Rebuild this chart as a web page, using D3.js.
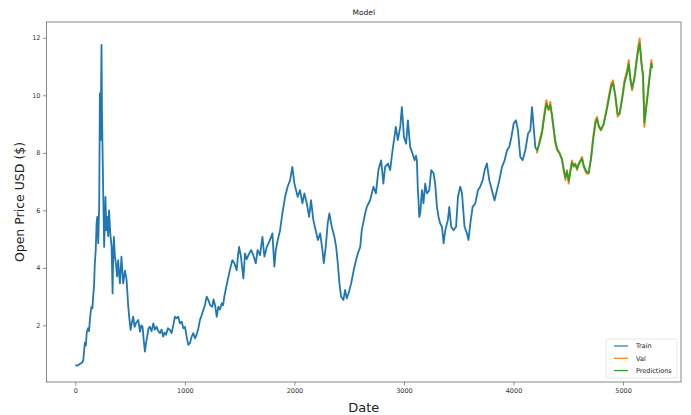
<!DOCTYPE html>
<html>
<head>
<meta charset="utf-8">
<script src="https://cdn.jsdelivr.net/npm/d3@7"></script>
<style>
  body { margin: 0; background: #fff; }
  text { font-family: "DejaVu Sans", sans-serif; }
</style>
</head>
<body>
<svg id="chart" width="691" height="415"></svg>
<script>
// Training window: [trading day, open price]
const trainSeries = [
  [0,0.62],[20,0.6],[41,0.66],[60,0.7],[72,0.78],[87,1.4],[96,1.3],[104,1.75],[116,1.9],[125,1.8],
  [133,2.19],[141,2.5],[148,2.65],[156,2.6],[163,3.0],[171,3.4],[178,4.16],[186,4.6],[194,5.55],[200,5.77],
  [209,4.86],[218,6.25],[224,10.07],[230,8.44],[239,11.75],[243,9.5],[248,8.2],[255,6.47],[263,4.73],[269,5.6],
  [275,6.47],[283,5.3],[291,5.77],[300,5.1],[308,6.0],[319,5.2],[331,4.73],[340,3.11],[346,4.5],[352,5.08],
  [361,4.4],[370,4.16],[381,3.7],[391,4.27],[399,3.8],[407,3.46],[421,4.39],[429,3.9],[437,3.46],[453,3.9],
  [468,3.58],[483,2.65],[494,2.2],[505,1.84],[516,2.1],[528,2.3],[541,1.95],[553,2.07],[574,2.19],[590,1.78],
  [602,2.0],[614,1.95],[624,1.5],[635,1.09],[646,1.4],[656,1.61],[668,1.9],[680,1.95],[696,1.8],[712,2.07],
  [726,1.85],[742,1.95],[758,1.8],[773,1.73],[787,1.85],[802,1.61],[814,1.75],[828,1.67],[845,1.9],[864,1.84],
  [879,1.73],[894,2.0],[909,2.3],[925,2.25],[939,2.3],[955,2.07],[971,2.13],[986,1.9],[1001,1.95],[1016,1.61],
  [1031,1.32],[1046,1.38],[1061,1.6],[1077,1.73],[1092,1.55],[1107,1.67],[1123,1.9],[1138,2.19],[1153,2.35],[1168,2.53],
  [1183,2.7],[1199,3.0],[1214,2.88],[1230,2.71],[1250,2.65],[1262,2.9],[1275,2.71],[1291,2.3],[1305,2.65],[1320,2.55],
  [1337,2.77],[1349,2.7],[1360,3.0],[1376,3.3],[1391,3.58],[1411,3.92],[1433,4.27],[1452,4.16],[1473,3.92],[1484,4.4],
  [1495,4.73],[1512,4.39],[1523,4.0],[1534,3.63],[1549,4.5],[1564,4.3],[1580,4.44],[1605,4.62],[1625,4.44],[1647,4.16],
  [1664,4.62],[1686,4.44],[1708,5.08],[1726,4.39],[1748,4.73],[1777,4.97],[1799,5.2],[1817,4.04],[1830,4.62],[1848,4.97],
  [1869,5.31],[1890,5.89],[1915,6.47],[1938,6.82],[1961,7.05],[1981,7.51],[2000,6.93],[2030,6.47],[2051,6.7],[2073,6.24],
  [2091,6.59],[2113,6.24],[2134,5.77],[2152,6.35],[2173,5.66],[2194,5.31],[2214,4.97],[2235,5.2],[2256,4.62],[2268,4.16],
  [2286,4.73],[2304,5.55],[2319,5.89],[2341,5.43],[2365,5.08],[2381,4.73],[2396,4.16],[2411,3.46],[2426,3.0],[2447,2.88],
  [2463,3.23],[2478,2.94],[2494,3.11],[2518,3.46],[2548,4.04],[2579,4.5],[2601,4.73],[2615,5.31],[2646,5.89],[2661,6.12],
  [2691,6.35],[2722,6.82],[2744,6.59],[2767,7.4],[2792,7.74],[2812,6.93],[2828,7.51],[2854,7.63],[2874,7.4],[2896,8.09],
  [2913,8.55],[2926,8.9],[2944,8.44],[2966,8.9],[2981,9.59],[3000,8.55],[3020,8.32],[3036,9.13],[3057,8.2],[3078,7.98],
  [3097,7.74],[3110,7.9],[3118,7.74],[3127,6.7],[3133,6.35],[3139,5.77],[3149,5.89],[3164,6.7],[3178,6.24],[3194,6.93],
  [3209,6.59],[3231,6.7],[3249,7.4],[3271,7.28],[3285,6.93],[3301,6.12],[3316,5.77],[3330,5.55],[3347,5.43],[3362,4.85],
  [3377,5.31],[3401,5.66],[3414,6.12],[3431,5.43],[3453,5.31],[3476,5.43],[3493,6.47],[3514,6.82],[3530,6.59],[3553,5.43],
  [3575,5.2],[3589,4.97],[3606,5.55],[3627,6.12],[3651,6.24],[3676,6.7],[3696,6.82],[3719,7.05],[3737,7.4],[3757,7.63],
  [3779,7.05],[3803,6.7],[3827,6.35],[3849,6.7],[3871,7.05],[3895,7.51],[3919,7.74],[3941,8.09],[3961,8.2],[3981,8.55],
  [4002,9.02],[4023,9.13],[4041,8.78],[4062,7.86],[4083,7.74],[4108,8.09],[4133,8.67],[4154,8.78],[4169,9.59],[4184,8.9],
  [4199,8.2],[4213,8.1]
];

// Validation window
const valDay = [4214,4239,4261,4281,4300,4320,4336,4352,4367,4382,4398,4421,4443,4457,4474,4489,4504,4519,4534,4549,
  4564,4580,4594,4611,4626,4641,4665,4686,4708,4727,4748,4763,4778,4799,4823,4847,4869,4891,4909,4930,
  4951,4969,4992,5013,5037,5052,5067,5083,5104,5122,5138,5152,5168,5183,5195,5211,5225,5244,5259,5266];
const valOpen = [7.98,8.44,8.78,9.36,9.83,9.48,9.77,9.25,8.78,8.32,8.09,7.98,7.74,7.4,7.05,7.4,6.93,7.4,7.74,7.51,
  7.63,7.4,7.63,7.74,7.86,7.51,7.28,7.28,7.86,8.55,9.13,9.25,8.9,8.78,9.02,9.48,9.94,10.4,10.52,9.94,
  9.25,9.36,9.94,10.52,10.87,11.22,10.52,10.17,10.64,11.22,11.68,11.98,11.1,10.64,8.9,9.59,10.06,10.75,11.22,10.98];
const predOpen = [8.05,8.35,8.70,9.25,9.70,9.52,9.66,9.30,8.86,8.40,8.15,7.98,7.78,7.47,7.15,7.35,7.02,7.34,7.66,7.55,
  7.60,7.45,7.58,7.70,7.80,7.56,7.35,7.30,7.78,8.44,9.02,9.18,8.95,8.80,8.98,9.40,9.84,10.28,10.42,10.00,
  9.35,9.36,9.86,10.42,10.76,11.08,10.60,10.24,10.58,11.10,11.55,11.80,11.15,10.70,9.05,9.55,10.00,10.66,11.10,10.95];

const xTicks = [0, 1000, 2000, 3000, 4000, 5000];
const yTicks = [2, 4, 6, 8, 10, 12];
const legendLabels = ["Train", "Val", "Predictions"];
const seriesColors = ["#1f77b4", "#ff7f0e", "#2ca02c"];

const svg = d3.select("#chart");
const plot = { left: 46.5, right: 681, top: 22, bottom: 382 };

// Axis limits padded by 5% on each side
const allDays = trainSeries.map(d => d[0]).concat(valDay);
const allVals = trainSeries.map(d => d[1]).concat(valOpen, predOpen);
const [dx0, dx1] = d3.extent(allDays);
const [dy0, dy1] = d3.extent(allVals);
const padX = (dx1 - dx0) * 0.05, padY = (dy1 - dy0) * 0.05;

const x = d3.scaleLinear().domain([dx0 - padX, dx1 + padX]).range([plot.left, plot.right]);
const y = d3.scaleLinear().domain([dy0 - padY, dy1 + padY]).range([plot.bottom, plot.top]);

const line = d3.line().x(d => x(d[0])).y(d => y(d[1]));

const valSeries = valDay.map((d, i) => [d, valOpen[i]]);
const predSeries = valDay.map((d, i) => [d, predOpen[i]]);

const lines = svg.append("g").attr("fill", "none").attr("stroke-width", 1.8).attr("stroke-linejoin", "round");
lines.append("path").attr("d", line(trainSeries)).attr("stroke", seriesColors[0]);
lines.append("path").attr("d", line(valSeries)).attr("stroke", seriesColors[1]);
lines.append("path").attr("d", line(predSeries)).attr("stroke", seriesColors[2]);

// Axes
const xAxis = d3.axisBottom(x).tickValues(xTicks).tickSize(3.5).tickPadding(2.5).tickFormat(d3.format("d"));
const yAxis = d3.axisLeft(y).tickValues(yTicks).tickSize(3.5).tickPadding(2.5).tickFormat(d3.format("d"));

const gx = svg.append("g").attr("transform", `translate(0,${plot.bottom})`).call(xAxis);
const gy = svg.append("g").attr("transform", `translate(${plot.left},0)`).call(yAxis);
[gx, gy].forEach(g => {
  g.select(".domain").remove();
  g.selectAll(".tick line").attr("stroke", "#444").attr("stroke-width", 0.6);
  g.selectAll(".tick text").attr("fill", "#333").attr("font-size", 6.5)
    .attr("font-family", "DejaVu Sans, sans-serif");
});

// Frame
svg.append("rect")
  .attr("x", plot.left).attr("y", plot.top)
  .attr("width", plot.right - plot.left).attr("height", plot.bottom - plot.top)
  .attr("fill", "none").attr("stroke", "#555").attr("stroke-width", 0.7);

// Titles
const cx = (plot.left + plot.right) / 2;
svg.append("text").attr("x", cx).attr("y", 15).attr("text-anchor", "middle")
  .attr("font-size", 7.5).attr("fill", "#222").text("Model");
svg.append("text").attr("x", cx).attr("y", 412).attr("text-anchor", "middle")
  .attr("font-size", 13).attr("fill", "#222").text("Date");
svg.append("text")
  .attr("transform", `translate(24,${(plot.top + plot.bottom) / 2}) rotate(-90)`)
  .attr("text-anchor", "middle").attr("font-size", 12.5).attr("fill", "#222")
  .text("Open Price USD ($)");

// Legend (lower right)
const lg = svg.append("g").attr("transform", `translate(606,339)`);
lg.append("rect").attr("width", 71).attr("height", 39).attr("rx", 2)
  .attr("fill", "#fff").attr("fill-opacity", 0.8).attr("stroke", "#ddd").attr("stroke-width", 0.7);
legendLabels.forEach((lab, i) => {
  const row = lg.append("g").attr("transform", `translate(0,${7 + i * 12.3})`);
  row.append("line").attr("x1", 8).attr("x2", 22).attr("stroke", seriesColors[i]).attr("stroke-width", 1.2);
  row.append("text").attr("x", 30).attr("y", 2.3).attr("font-size", 6.5).attr("fill", "#222").text(lab);
});
</script>
</body>
</html>
